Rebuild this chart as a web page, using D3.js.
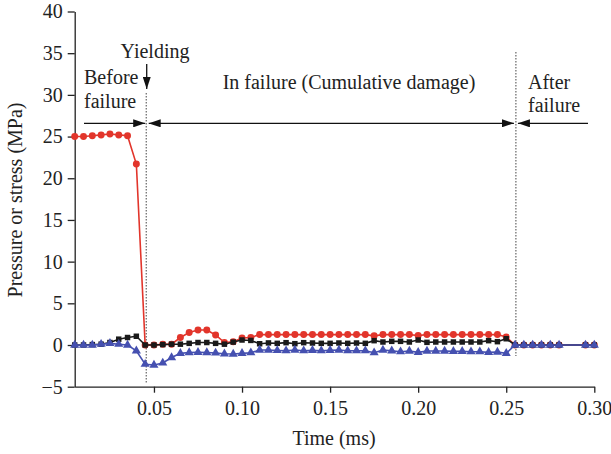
<!DOCTYPE html>
<html>
<head>
<meta charset="utf-8">
<script src="https://cdn.jsdelivr.net/npm/d3@7"></script>
<style>
  body { margin: 0; background: #fff; }
  text { font-family: "Liberation Serif", "Times New Roman", serif; }
</style>
</head>
<body>
<script>
// time (ms) of each sample, 0.285 and 0.290 are missing in the source
let time = [0.005, 0.010, 0.015, 0.020, 0.025, 0.030, 0.035, 0.040, 0.045, 0.050,
    0.055, 0.060, 0.065, 0.070, 0.075, 0.080, 0.085, 0.090, 0.095, 0.100,
    0.105, 0.110, 0.115, 0.120, 0.125, 0.130, 0.135, 0.140, 0.145, 0.150,
    0.155, 0.160, 0.165, 0.170, 0.175, 0.180, 0.185, 0.190, 0.195, 0.200,
    0.205, 0.210, 0.215, 0.220, 0.225, 0.230, 0.235, 0.240, 0.245, 0.250,
    0.255, 0.260, 0.265, 0.270, 0.275, 0.280, 0.295, 0.300];

let redValues = [25.0, 25.0, 25.1, 25.2, 25.3, 25.2, 25.1, 21.7, 0, 0,
    0.1, 0.1, 0.9, 1.5, 1.8, 1.8, 1.2, 0.3, 0.4, 0.85,
    0.9, 1.25, 1.25, 1.25, 1.25, 1.25, 1.25, 1.25, 1.25, 1.25,
    1.25, 1.25, 1.25, 1.25, 1.1, 1.25, 1.25, 1.25, 1.25, 1.15,
    1.25, 1.25, 1.25, 1.25, 1.25, 1.25, 1.25, 1.25, 1.25, 0.95,
    0, 0, 0, 0, 0, 0, 0, 0];

let blackValues = [0, 0, 0.05, 0.1, 0.3, 0.7, 0.9, 1.05, 0, 0,
    0.05, 0.1, 0.1, 0.2, 0.3, 0.3, 0.2, 0.1, 0.35, 0.6,
    0.55, 0.15, 0.25, 0.2, 0.28, 0.16, 0.28, 0.24, 0.2, 0.2,
    0.24, 0.2, 0.24, 0.2, 0.52, 0.36, 0.44, 0.44, 0.36, 0.6,
    0.32, 0.36, 0.36, 0.36, 0.36, 0.36, 0.36, 0.52, 0.4, 0.75,
    0, 0, 0, 0, 0, 0, 0, 0];

let blueValues = [0, 0, 0, 0.1, 0.2, 0.1, 0, -0.7, -2.3, -2.4,
    -2.15, -1.5, -1.0, -0.9, -0.88, -0.9, -0.95, -1.05, -1.08, -1.0,
    -0.92, -0.6, -0.6, -0.65, -0.68, -0.6, -0.68, -0.64, -0.68, -0.64,
    -0.6, -0.68, -0.68, -0.68, -0.92, -0.6, -0.7, -0.8, -0.72, -0.88,
    -0.72, -0.72, -0.72, -0.76, -0.76, -0.8, -0.8, -0.88, -0.84, -1.0,
    0, 0, 0, 0, 0, 0, 0, 0];

let xTicks = [0.05, 0.10, 0.15, 0.20, 0.25, 0.30];
let yTicks = [-5, 0, 5, 10, 15, 20, 25, 30, 35, 40];

// stage boundaries (ms)
let yieldTime = 0.0456;
let failTime = 0.2555;

let width = 611, height = 454;
let fontSize = 20;

let svg = d3.select('body').append('svg')
    .attr('width', width)
    .attr('height', height);

let x = d3.scaleLinear().domain([0.005, 0.30]).range([74.7, 594.3]);
let y = d3.scaleLinear().domain([-5, 40]).range([386.7, 11.5]);

// axes
let xAxis = svg.append('g')
    .attr('transform', `translate(0,${y(-5)})`)
    .call(d3.axisBottom(x).tickValues(xTicks).tickFormat(d3.format('.2f')).tickSizeInner(6).tickSizeOuter(0).tickPadding(5));

let yAxis = svg.append('g')
    .attr('transform', `translate(${x(0.005)},0)`)
    .call(d3.axisLeft(y).tickValues(yTicks).tickSizeInner(7).tickSizeOuter(0).tickPadding(5));

svg.selectAll('.domain, .tick line').attr('stroke', '#222').attr('stroke-width', 1.3);
svg.selectAll('.tick text')
    .attr('font-size', fontSize)
    .attr('font-family', '"Liberation Serif", serif')
    .attr('fill', '#222');
xAxis.selectAll('.tick text').attr('dy', '0.85em');

svg.append('text')
    .attr('x', 334).attr('y', 445)
    .attr('text-anchor', 'middle')
    .attr('font-size', fontSize)
    .attr('fill', '#222')
    .text('Time (ms)');

svg.append('text')
    .attr('transform', 'translate(22,200) rotate(-90)')
    .attr('text-anchor', 'middle')
    .attr('font-size', fontSize)
    .attr('fill', '#222')
    .text('Pressure or stress (MPa)');

// dotted stage lines
svg.append('line')
    .attr('x1', x(yieldTime)).attr('x2', x(yieldTime))
    .attr('y1', 93).attr('y2', 383)
    .attr('stroke', '#444').attr('stroke-width', 1)
    .attr('stroke-dasharray', '1.5,1.5');

svg.append('line')
    .attr('x1', x(failTime)).attr('x2', x(failTime))
    .attr('y1', 52).attr('y2', 356)
    .attr('stroke', '#444').attr('stroke-width', 1)
    .attr('stroke-dasharray', '1.5,1.5');

// arrow heads
let defs = svg.append('defs');
defs.append('marker')
    .attr('id', 'head')
    .attr('viewBox', '0 0 12 8')
    .attr('refX', 12).attr('refY', 4)
    .attr('markerWidth', 12).attr('markerHeight', 8)
    .attr('markerUnits', 'userSpaceOnUse')
    .attr('orient', 'auto-start-reverse')
    .append('path')
    .attr('d', 'M0,0 L12,4 L0,8 Z')
    .attr('fill', '#111');

let arrowY = 123.3;
let arrows = [
    {x1: 84, x2: x(yieldTime) - 1, start: false, end: true},
    {x1: x(yieldTime) + 2.5, x2: x(failTime) - 2, start: true, end: true},
    {x1: x(failTime) + 2, x2: 588, start: true, end: false}
];
arrows.forEach(a => {
    svg.append('line')
        .attr('x1', a.x1).attr('x2', a.x2)
        .attr('y1', arrowY).attr('y2', arrowY)
        .attr('stroke', '#111').attr('stroke-width', 1.3)
        .attr('marker-start', a.start ? 'url(#head)' : null)
        .attr('marker-end', a.end ? 'url(#head)' : null);
});

svg.append('line')
    .attr('x1', x(yieldTime) + 0.5).attr('x2', x(yieldTime) + 0.5)
    .attr('y1', 64).attr('y2', 89)
    .attr('stroke', '#111').attr('stroke-width', 1.3)
    .attr('marker-end', 'url(#head)');

// stage labels
let labels = [
    {t: 'Yielding', x: 155, y: 58, anchor: 'middle'},
    {t: 'Before', x: 84, y: 84, anchor: 'start'},
    {t: 'failure', x: 84, y: 107.5, anchor: 'start'},
    {t: 'In failure (Cumulative damage)', x: 349, y: 89, anchor: 'middle'},
    {t: 'After', x: 528, y: 89, anchor: 'start'},
    {t: 'failure', x: 528, y: 112, anchor: 'start'}
];
svg.selectAll('.label').data(labels).enter().append('text')
    .attr('class', 'label')
    .attr('x', d => d.x).attr('y', d => d.y)
    .attr('text-anchor', d => d.anchor)
    .attr('font-size', fontSize)
    .attr('fill', '#222')
    .text(d => d.t);

// series
let series = [
    {name: 'red', values: redValues, color: '#e2352b', shape: d3.symbolCircle, size: 38},
    {name: 'black', values: blackValues, color: '#1a1a1a', shape: d3.symbolSquare, size: 30},
    {name: 'blue', values: blueValues, color: '#4550b0', shape: d3.symbolTriangle, size: 36}
];

let line = d3.line()
    .x(d => x(d[0]))
    .y(d => y(d[1]));

series.forEach(s => {
    let pts = time.map((t, i) => [t, s.values[i]]);
    let g = svg.append('g').attr('class', s.name);
    g.append('path')
        .datum(pts)
        .attr('d', line)
        .attr('fill', 'none')
        .attr('stroke', s.color)
        .attr('stroke-width', 1.6);
    g.selectAll('path.pt').data(pts).enter().append('path')
        .attr('class', 'pt')
        .attr('transform', d => `translate(${x(d[0])},${y(d[1])})`)
        .attr('d', d3.symbol().type(s.shape).size(s.size))
        .attr('fill', s.color);
});
</script>
</body>
</html>
